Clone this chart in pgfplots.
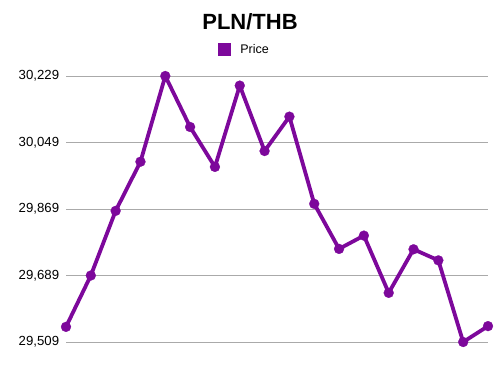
\documentclass[border=0pt]{standalone}
\usepackage{pgfplots}
\pgfplotsset{compat=1.18}
\usepackage{fontspec}
\setmainfont{Liberation Sans}
\definecolor{pur}{RGB}{125,8,155}
\definecolor{gridc}{RGB}{170,170,170}
\begin{document}
\begin{tikzpicture}[x=1pt,y=1pt]
\useasboundingbox (0,0) rectangle (500,375);
\begin{axis}[
  at={(66pt,33pt)}, anchor=south west,
  scale only axis, width=422pt, height=266pt,
  xmin=0, xmax=17, ymin=29509, ymax=30229,
  ytick={29509,29689,29869,30049,30229},
  scaled y ticks=false,
  xtick=\empty,
  ymajorgrids, grid style={gridc, line width=1pt},
  axis line style={draw=none},
  major tick length=0pt,
  clip=false,
  /pgf/number format/assume math mode=true,
  /pgf/number format/fixed,
  /pgf/number format/1000 sep={,},
  yticklabel style={font=\fontsize{13.2}{13.2}\selectfont, inner sep=0pt, anchor=east, xshift=-6.7pt},
  title={PLN/THB},
  title style={at={(0.436,1.18)}, anchor=center, inner sep=0pt, font=\bfseries\fontsize{22}{22}\selectfont},
  legend style={at={(0.4206,1.1)}, anchor=center, draw=none, fill=none,
    font=\fontsize{12.5}{12.5}\selectfont, inner sep=0pt,
    nodes={inner sep=0pt}},
  legend image code/.code={\fill[pur, draw=none, line width=0pt] (0pt,-6.5pt) rectangle (13pt,6.5pt); \path[draw=none] (0pt,0pt) -- (22pt,0pt);},
]
\addplot[pur, line width=3.8pt, line join=round, mark=*, mark size=5pt, mark options={solid, fill=pur, draw=pur, line width=0.2pt}] coordinates {
(0,29550) (1,29689) (2,29864) (3,29997) (4,30229) (5,30091) (6,29983) (7,30203)
(8,30026) (9,30119) (10,29883) (11,29761) (12,29797) (13,29642) (14,29760)
(15,29730) (16,29509) (17,29552)
};
\addlegendentry{Price}
\end{axis}
\end{tikzpicture}
\end{document}
